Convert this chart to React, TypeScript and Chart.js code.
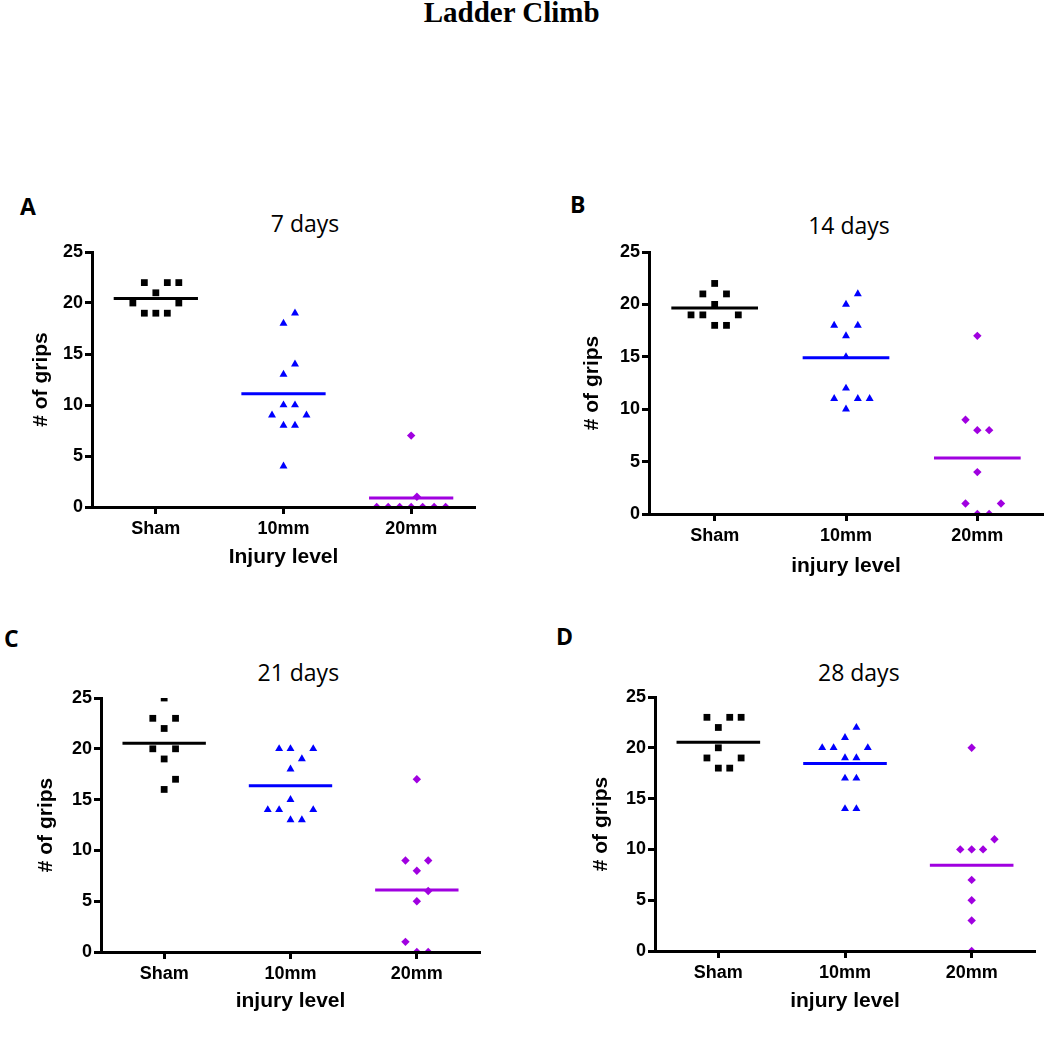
import React, { useEffect, useRef } from 'react';
import { Chart, registerables } from 'chart.js';

Chart.register(...registerables);

// ---------------- data ----------------
const FIGURE_TITLE = 'Ladder Climb';
const CATEGORIES = ['Sham', '10mm', '20mm'];
const PANEL_LETTERS = ['A', 'B', 'C', 'D'];
const PANEL_TITLES = ['7 days', '14 days', '21 days', '28 days'];
const X_TITLES = ['Injury level', 'injury level', 'injury level', 'injury level'];
const Y_TITLE = '# of grips';
const Y_MIN = 0;
const Y_MAX = 25;
const Y_STEP = 5;

// 7 days
const sham7 = [22, 22, 22, 21, 20, 20, 19, 19, 19];
const mm10_7 = [19, 18, 14, 13, 10, 10, 9, 9, 8, 8, 4];
const mm20_7 = [7, 1, 0, 0, 0, 0, 0, 0, 0];
// 14 days
const sham14 = [22, 21, 21, 20, 19, 19, 19, 18, 18];
const mm10_14 = [21, 20, 18, 18, 17, 15, 12, 11, 11, 11, 10];
const mm20_14 = [17, 9, 8, 8, 4, 1, 1, 0, 0];
// 21 days
const sham21 = [25, 23, 23, 22, 20, 20, 19, 17, 16];
const mm10_21 = [20, 20, 20, 19, 18, 15, 14, 14, 14, 13, 13];
const mm20_21 = [17, 9, 9, 8, 6, 5, 1, 0, 0];
// 28 days
const sham28 = [23, 23, 23, 22, 20, 19, 19, 18, 18];
const mm10_28 = [22, 21, 20, 20, 20, 19, 19, 17, 17, 14, 14];
const mm20_28 = [20, 11, 10, 10, 10, 7, 5, 3, 0];

const PANEL_DATA = [
  [sham7, mm10_7, mm20_7],
  [sham14, mm10_14, mm20_14],
  [sham21, mm10_21, mm20_21],
  [sham28, mm10_28, mm20_28],
];

// ---------------- styles / layout ----------------
const GROUP_COLORS = ['#000000', '#0000FF', '#A000E0'];
const GROUP_MARKERS = ['rect', 'triangle', 'rectRot'];
const GROUP_RADII = [4.8, 4.6, 4.2];
const COLUMN_STEP = 0.09; // horizontal spread of tied points, in category units
const MEAN_HALF_WIDTH = 0.33;

const AXIS_FONT = 'Liberation Sans';
const TITLE_FONT = 'Open Sans';
const SERIF_FONT = 'Liberation Serif';

const PANEL_LAYOUT = [
  { plotLeft: 92, plotRight: 475, plotTop: 252, plotBottom: 507, yAxisW: 63, xAxisH: 63, titleX: 305, titleBase: 232.7, letterX: 20, letterBase: 215 },
  { plotLeft: 649, plotRight: 1043, plotTop: 252, plotBottom: 514, yAxisW: 69, xAxisH: 65, titleX: 849, titleBase: 234, letterX: 570, letterBase: 213.3 },
  { plotLeft: 101, plotRight: 480, plotTop: 698, plotBottom: 952, yAxisW: 67, xAxisH: 62, titleX: 298.3, titleBase: 681.7, letterX: 4, letterBase: 647.3 },
  { plotLeft: 655, plotRight: 1035, plotTop: 697, plotBottom: 951, yAxisW: 66, xAxisH: 63, titleX: 858.8, titleBase: 681.7, letterX: 556, letterBase: 645 },
];
const PAD_TOP = 20;
const PAD_RIGHT = 6;

// Scatter-dot-plot layout: tied / near values spread sideways into columns.
function swarm(values: number[]) {
  const sorted = [...values].sort((a, b) => a - b);
  const placed: { v: number; col: number }[] = [];
  const slots = [0, 1, -1, 2, -2, 3, -3];
  for (const v of sorted) {
    let col = 0.5;
    for (const s of slots) {
      if (!placed.some((p) => p.col === s && Math.abs(p.v - v) <= 1)) {
        col = s;
        break;
      }
    }
    placed.push({ v, col });
  }
  return placed;
}

const mean = (a: number[]) => a.reduce((s, v) => s + v, 0) / a.length;

function Panel({ index }: { index: number }) {
  const ref = useRef<HTMLCanvasElement | null>(null);
  const L = PANEL_LAYOUT[index];
  const left = Math.round(L.plotLeft - L.yAxisW);
  const top = Math.round(L.plotTop - PAD_TOP);
  const width = Math.round(L.plotRight + PAD_RIGHT) - left;
  const height = Math.round(L.plotBottom + L.xAxisH) - top;
  const yW = L.plotLeft - left;
  const xH = top + height - L.plotBottom;

  useEffect(() => {
    if (!ref.current) return;
    const groups = PANEL_DATA[index];
    const datasets: any[] = [];
    groups.forEach((vals, g) => {
      datasets.push({
        data: swarm(vals).map((p) => ({ x: g + 1 + p.col * COLUMN_STEP, y: p.v })),
        pointStyle: GROUP_MARKERS[g],
        pointRadius: GROUP_RADII[g],
        pointBackgroundColor: GROUP_COLORS[g],
        pointBorderWidth: 0,
        showLine: false,
        order: 2,
      });
      const m = mean(vals);
      datasets.push({
        data: [
          { x: g + 1 - MEAN_HALF_WIDTH, y: m },
          { x: g + 1 + MEAN_HALF_WIDTH, y: m },
        ],
        showLine: true,
        borderColor: GROUP_COLORS[g],
        borderWidth: 3,
        pointRadius: 0,
        order: 1,
      });
    });

    const chart = new Chart(ref.current, {
      type: 'scatter',
      data: { datasets },
      options: {
        animation: false,
        responsive: false,
        maintainAspectRatio: false,
        layout: { padding: { top: PAD_TOP, right: PAD_RIGHT, left: 0, bottom: 0 } },
        plugins: { legend: { display: false }, tooltip: { enabled: false }, title: { display: false } },
        scales: {
          x: {
            type: 'linear',
            min: 0.5,
            max: CATEGORIES.length + 0.5,
            afterBuildTicks: (scale: any) => {
              scale.ticks = CATEGORIES.map((_, i) => ({ value: i + 1 }));
            },
            afterFit: (scale: any) => {
              scale.height = xH;
            },
            ticks: {
              autoSkip: false,
              maxRotation: 0,
              padding: 4,
              color: '#000',
              font: { family: AXIS_FONT, size: 18, weight: 'bold' },
              callback: (v: any) => CATEGORIES[Math.round(Number(v)) - 1] ?? '',
            },
            grid: { display: true, drawOnChartArea: false, drawTicks: true, tickLength: 7, tickWidth: 3, tickColor: '#000' },
            border: { display: true, color: '#000', width: 3, z: 1 },
            title: {
              display: true,
              text: X_TITLES[index],
              color: '#000',
              padding: 0,
              font: { family: AXIS_FONT, size: 21, weight: 'bold' },
            },
          },
          y: {
            type: 'linear',
            min: Y_MIN,
            max: Y_MAX,
            afterFit: (scale: any) => {
              scale.width = yW;
            },
            ticks: {
              stepSize: Y_STEP,
              padding: 2,
              color: '#000',
              font: { family: AXIS_FONT, size: 18, weight: 'bold' },
            },
            grid: { display: true, drawOnChartArea: false, drawTicks: true, tickLength: 7, tickWidth: 3, tickColor: '#000' },
            border: { display: true, color: '#000', width: 3, z: 1 },
            title: {
              display: true,
              text: Y_TITLE,
              color: '#000',
              padding: 0,
              font: { family: AXIS_FONT, size: 21, weight: 'bold' },
            },
          },
        },
      } as any,
    });
    return () => chart.destroy();
  }, [index]);

  return (
    <canvas
      ref={ref}
      width={width}
      height={height}
      style={{ position: 'absolute', left, top, width, height, display: 'block' }}
    />
  );
}

function Text({ text, x, baseline, size, family, weight, center }: any) {
  const asc = family === SERIF_FONT ? 0.8375 : 0.888;
  return (
    <div
      style={{
        position: 'absolute',
        left: x,
        top: baseline - asc * size,
        fontFamily: family,
        fontWeight: weight,
        fontSize: size,
        lineHeight: `${size}px`,
        whiteSpace: 'nowrap',
        color: '#000',
        transform: center ? 'translateX(-50%)' : undefined,
      }}
    >
      {text}
    </div>
  );
}

export default function App() {
  return (
    <div style={{ position: 'absolute', left: 0, top: 0, width: 1050, height: 1037, overflow: 'hidden', background: '#fff' }}>
      <Text text={FIGURE_TITLE} x={511.7} baseline={22.7} size={29} family={SERIF_FONT} weight="bold" center />
      {PANEL_LAYOUT.map((L, i) => (
        <React.Fragment key={i}>
          <Text text={PANEL_LETTERS[i]} x={L.letterX} baseline={L.letterBase} size={23} family={TITLE_FONT} weight="bold" />
          <Text text={PANEL_TITLES[i]} x={L.titleX} baseline={L.titleBase} size={23} family={TITLE_FONT} weight="normal" center />
          <Panel index={i} />
        </React.Fragment>
      ))}
    </div>
  );
}
